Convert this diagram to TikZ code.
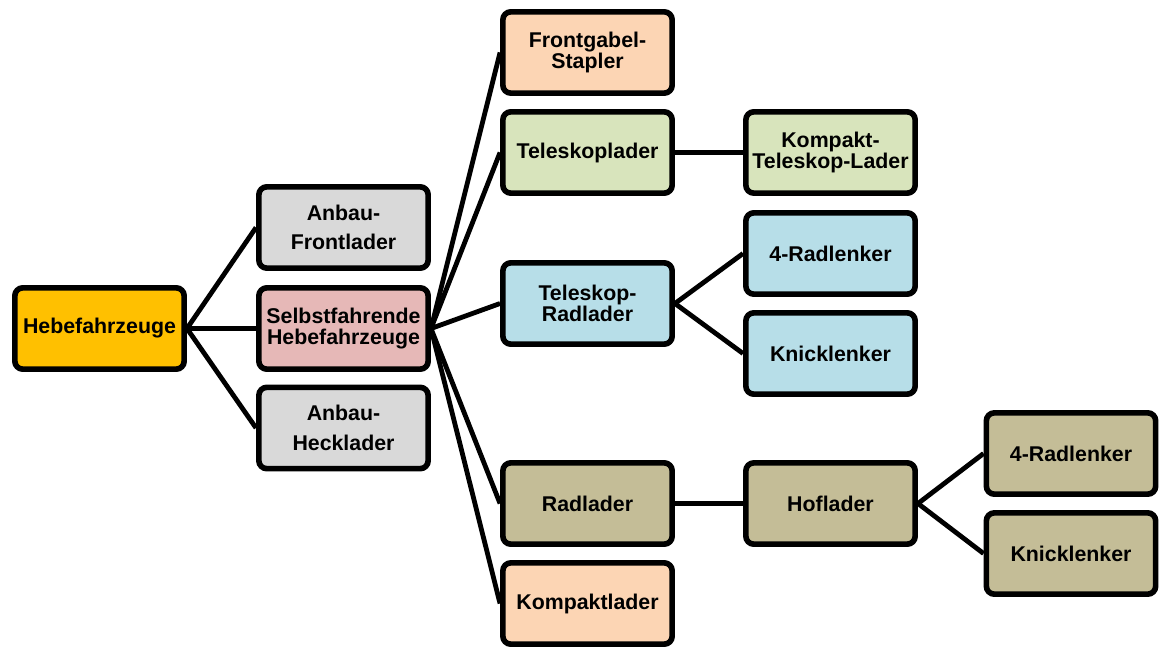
\documentclass[tikz,border=0pt]{standalone}
\usepackage{fontspec}
\setmainfont{Liberation Sans}
\definecolor{hebegelb}{HTML}{FFC000}
\definecolor{selbstrosa}{HTML}{E6B8B7}
\definecolor{anbaugrau}{HTML}{D9D9D9}
\definecolor{pfirsich}{HTML}{FCD5B4}
\definecolor{telegruen}{HTML}{D8E4BC}
\definecolor{radblau}{HTML}{B7DEE8}
\definecolor{hofbraun}{HTML}{C4BD97}
\begin{document}
\begin{tikzpicture}[x=0.75pt, y=-0.75pt, line width=3.6pt,
    box/.style={draw, line width=4.2pt, rounded corners=6pt, minimum width=127pt,
      minimum height=61pt, inner sep=2pt, align=center,
      font=\fontsize{16}{15.5}\selectfont\bfseries},
    tallbox/.style={box, font=\fontsize{16}{22}\selectfont\bfseries}]
  \useasboundingbox (0,0) rectangle (1159,648);
  % Wurzel und erste Ebene
  \node[box, fill=hebegelb] (hebe) at (99.5,328.5) {Hebefahrzeuge};
  \node[tallbox, fill=anbaugrau] (front) at (343.5,227.5) {Anbau-\\Frontlader};
  \node[box, fill=selbstrosa] (selbst) at (343.5,328.5) {Selbstfahrende\\Hebefahrzeuge};
  \node[tallbox, fill=anbaugrau] (heck) at (343.5,428) {Anbau-\\Hecklader};
  % zweite Ebene
  \node[box, fill=pfirsich] (stapler) at (587.5,52.5) {Frontgabel-\\Stapler};
  \node[box, fill=telegruen] (tele) at (587.5,152.5) {Teleskoplader};
  \node[box, fill=radblau] (telerad) at (587.5,303.5) {Teleskop-\\Radlader};
  \node[box, fill=hofbraun] (rad) at (587.5,503.5) {Radlader};
  \node[box, fill=pfirsich] (kompakt) at (587.5,603.5) {Kompaktlader};
  % dritte Ebene
  \node[box, fill=telegruen] (kompakttele) at (830.5,152.5) {Kompakt-\\Teleskop-Lader};
  \node[box, fill=radblau] (vierblau) at (830.5,253.5) {4-Radlenker};
  \node[box, fill=radblau] (knickblau) at (830.5,353.5) {Knicklenker};
  \node[box, fill=hofbraun] (hof) at (830.5,503.5) {Hoflader};
  % vierte Ebene
  \node[box, fill=hofbraun] (vierbraun) at (1071,453.5) {4-Radlenker};
  \node[box, fill=hofbraun] (knickbraun) at (1071,553.5) {Knicklenker};
  % Verbindungen
  \foreach \k in {front,selbst,heck}
    \draw (hebe.east) -- (\k.west);
  \foreach \k in {stapler,tele,telerad,rad,kompakt}
    \draw (selbst.east) -- (\k.west);
  \draw (tele.east) -- (kompakttele.west);
  \draw (telerad.east) -- (vierblau.west);
  \draw (telerad.east) -- (knickblau.west);
  \draw (rad.east) -- (hof.west);
  \draw (hof.east) -- (vierbraun.west);
  \draw (hof.east) -- (knickbraun.west);
\end{tikzpicture}
\end{document}
